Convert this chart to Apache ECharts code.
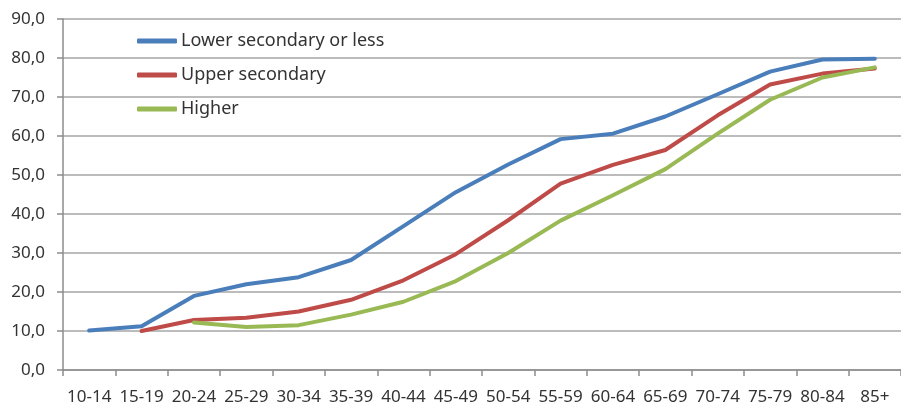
<!DOCTYPE html>
<html>
<head>
<meta charset="utf-8">
<script src="https://cdn.jsdelivr.net/npm/echarts@6/dist/echarts.min.js"></script>
<style>
  html, body { margin: 0; padding: 0; background: #fff; }
  #chart { width: 901px; height: 406px; }
</style>
</head>
<body>
<div id="chart"></div>
<script>
// Age groups along the horizontal axis
const ageGroups = ['10-14', '15-19', '20-24', '25-29', '30-34', '35-39', '40-44', '45-49',
  '50-54', '55-59', '60-64', '65-69', '70-74', '75-79', '80-84', '85+'];

// Share (%) by education level; null where no value exists
const lowerSecondary = [10.1, 11.2, 19.0, 22.0, 23.8, 28.2, 36.9, 45.6,
  52.7, 59.2, 60.6, 65.0, 70.7, 76.5, 79.6, 79.8];
const upperSecondary = [null, 10.0, 12.8, 13.4, 15.0, 18.0, 23.0, 29.7,
  38.4, 47.8, 52.6, 56.4, 65.3, 73.2, 76.0, 77.3];
const higher = [null, null, 12.2, 11.0, 11.5, 14.2, 17.5, 22.8,
  30.0, 38.3, 44.8, 51.5, 60.6, 69.3, 75.0, 77.6];

const seriesNames = ['Lower secondary or less', 'Upper secondary', 'Higher'];
const seriesColors = ['#4a7ebb', '#be4b48', '#98b954'];

const chart = echarts.init(document.getElementById('chart'), null, { renderer: 'canvas' });

const fontFamily = '"Noto Sans", "Liberation Sans", sans-serif';
const textColor = '#333333';

function lineSeries(name, data, color) {
  return {
    name: name,
    type: 'line',
    data: data,
    showSymbol: false,
    symbol: 'none',
    connectNulls: false,
    animation: false,
    lineStyle: { color: color, width: 4, join: 'round', cap: 'round' },
    itemStyle: { color: color }
  };
}

chart.setOption({
  animation: false,
  backgroundColor: '#ffffff',
  grid: { left: 63, right: 0, top: 19, bottom: 35, containLabel: false },
  legend: {
    orient: 'vertical',
    left: 132,
    top: 26,
    itemWidth: 40,
    itemHeight: 5,
    itemGap: 14,
    icon: 'roundRect',
    data: seriesNames,
    textStyle: { fontFamily: fontFamily, fontSize: 18, color: textColor, lineHeight: 20, padding: [0, 0, 0, -1] }
  },
  xAxis: {
    type: 'category',
    data: ageGroups,
    boundaryGap: true,
    axisLine: { lineStyle: { color: '#8c8c8c', width: 1.5 } },
    axisTick: { show: true, length: 6, inside: false, alignWithLabel: false, lineStyle: { color: '#8c8c8c', width: 1.5 } },
    axisLabel: { interval: 0, margin: 19, fontFamily: fontFamily, fontSize: 17, color: textColor },
    splitLine: { show: false }
  },
  yAxis: {
    type: 'value',
    min: 0,
    max: 90,
    interval: 10,
    axisLine: { show: true, lineStyle: { color: '#8c8c8c', width: 1.5 } },
    axisTick: { show: true, length: 6, lineStyle: { color: '#8c8c8c', width: 1.5 } },
    axisLabel: {
      margin: 18,
      fontFamily: fontFamily,
      fontSize: 17,
      color: textColor,
      formatter: v => v.toFixed(1).replace('.', ',')
    },
    splitLine: { show: true, lineStyle: { color: '#a6a6a6', width: 1.5 } }
  },
  series: [
    lineSeries(seriesNames[0], lowerSecondary, seriesColors[0]),
    lineSeries(seriesNames[1], upperSecondary, seriesColors[1]),
    lineSeries(seriesNames[2], higher, seriesColors[2])
  ]
});
</script>
</body>
</html>
